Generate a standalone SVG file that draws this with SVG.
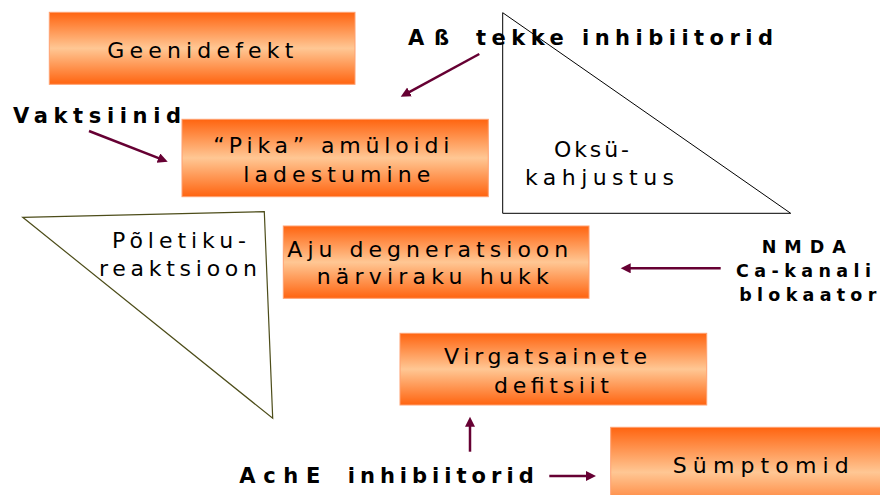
<svg xmlns="http://www.w3.org/2000/svg" width="880" height="495" viewBox="0 0 880 495">
<defs>
<linearGradient id="og" x1="0" y1="0" x2="0" y2="1">
<stop offset="0" stop-color="#FF6410"/>
<stop offset="0.5" stop-color="#FFC794"/>
<stop offset="1" stop-color="#FF6410"/>
</linearGradient>
<marker id="ah" markerUnits="userSpaceOnUse" markerWidth="11" markerHeight="11" refX="3" refY="5" orient="auto">
<path d="M0,0 L10,5 L0,10 z" fill="#660033"/>
</marker>
<style>
.box{fill:url(#og);stroke:#FFA070;stroke-width:1}
.t{font-family:"DejaVu Sans","Liberation Sans",sans-serif;font-size:22px;fill:#000}
.b{font-family:"DejaVu Sans","Liberation Sans",sans-serif;font-size:21px;font-weight:bold;fill:#000}
.s{font-size:17.5px}
.tri1{fill:#fff;stroke:#000;stroke-width:1}
.tri2{fill:#fff;stroke:#4D4D1A;stroke-width:1.2}
.c{stroke:#660033;stroke-width:2.5;fill:none;marker-end:url(#ah)}
</style>
</defs>
<rect width="880" height="495" fill="#fff"/>

<g id="oksu">
<polygon class="tri1" points="502.7,12.7 502.7,213.3 790.7,213.3"/>
<text class="t" x="554" y="157" textLength="75" lengthAdjust="spacing">Oksü-</text>
<text class="t" x="525" y="185" textLength="149" lengthAdjust="spacing">kahjustus</text>
</g>

<g id="poletik">
<polygon class="tri2" points="22.7,217.3 264.3,211.7 272.7,418.3"/>
<text class="t" x="112" y="248" textLength="134" lengthAdjust="spacing">Põletiku-</text>
<text class="t" x="99" y="276" textLength="158" lengthAdjust="spacing">reaktsioon</text>
</g>

<g id="geenidefekt">
<rect class="box" x="49.3" y="12.3" width="305.7" height="72"/>
<text class="t" x="107.3" y="58.3" textLength="186" lengthAdjust="spacing">Geenidefekt</text>
</g>

<g id="pika">
<rect class="box" x="182" y="119.3" width="306.3" height="77.4"/>
<text class="t" x="213.3" y="153.3" textLength="236" lengthAdjust="spacing">“Pika” amüloidi</text>
<text class="t" x="243.3" y="181.7" textLength="187" lengthAdjust="spacing">ladestumine</text>
</g>

<g id="aju">
<rect class="box" x="283.3" y="226" width="305.7" height="72.3"/>
<text class="t" x="287.3" y="256.7" textLength="281" lengthAdjust="spacing">Aju degneratsioon</text>
<text class="t" x="316.7" y="284" textLength="232" lengthAdjust="spacing">närviraku hukk</text>
</g>

<g id="virgatsainete">
<rect class="box" x="400" y="333.3" width="306.7" height="71.7"/>
<text class="t" x="444" y="364.3" textLength="203" lengthAdjust="spacing">Virgatsainete</text>
<text class="t" x="494" y="392.7" textLength="115" lengthAdjust="spacing">defitsiit</text>
</g>

<g id="symptomid">
<rect class="box" x="610.7" y="427.3" width="290" height="90"/>
<text class="t" x="672.7" y="472.7" textLength="176" lengthAdjust="spacing">Sümptomid</text>
</g>

<g id="abeta">
<text class="b" x="408" y="45" textLength="41" lengthAdjust="spacing">Aß</text>
<text class="b" x="476" y="45" textLength="297" lengthAdjust="spacing">tekke inhibiitorid</text>
</g>

<g id="vaktsiinid">
<text class="b" x="13" y="122.7" textLength="168" lengthAdjust="spacing">Vaktsiinid</text>
</g>

<g id="nmda">
<text class="b s" x="761.7" y="253.3" textLength="84" lengthAdjust="spacing">NMDA</text>
<text class="b s" x="736" y="276.7" textLength="135" lengthAdjust="spacing">Ca-kanali</text>
<text class="b s" x="739.3" y="300.7" textLength="137" lengthAdjust="spacing">blokaator</text>
</g>

<g id="ache">
<text class="b" x="239.3" y="483.3" textLength="81" lengthAdjust="spacing">AchE</text>
<text class="b" x="347.7" y="483.3" textLength="186" lengthAdjust="spacing">inhibiitorid</text>
</g>

<g id="connectors">
<line class="c" x1="479.3" y1="54" x2="406.9" y2="93.4"/>
<line class="c" x1="89" y1="131" x2="161.2" y2="159.2"/>
<line class="c" x1="720.7" y1="268.3" x2="627.7" y2="268.3"/>
<line class="c" x1="470" y1="451.7" x2="470" y2="423.7"/>
<line class="c" x1="549.3" y1="476" x2="589" y2="476"/>
</g>
</svg>
